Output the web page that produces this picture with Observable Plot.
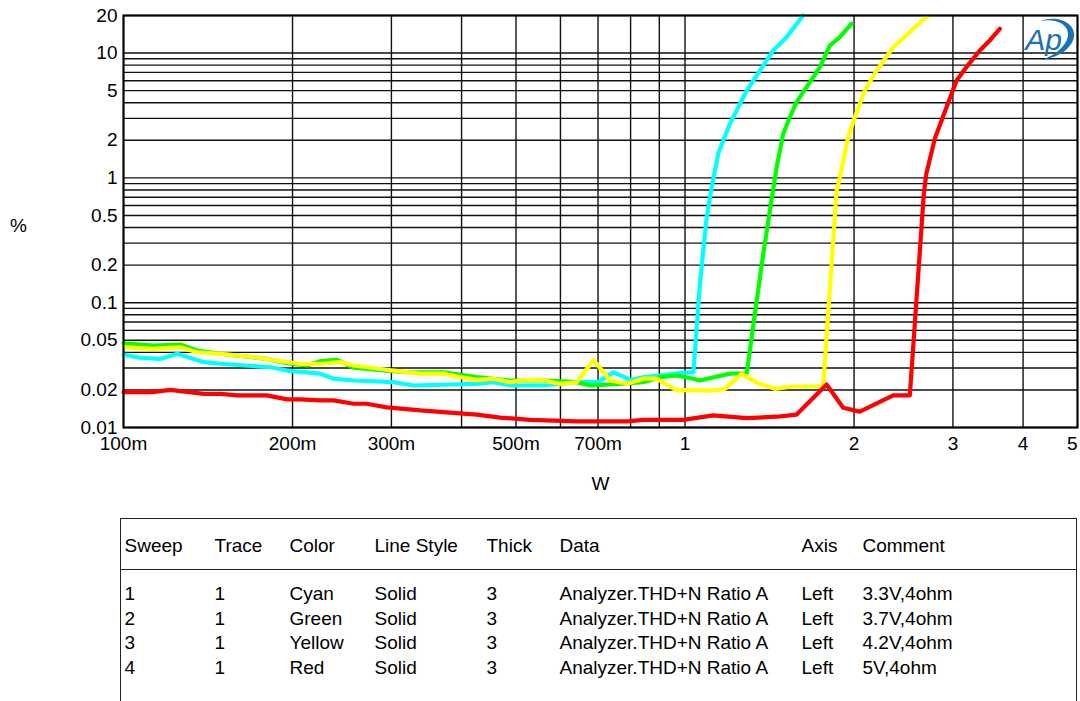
<!DOCTYPE html>
<html>
<head>
<meta charset="utf-8">
<script src="https://cdn.jsdelivr.net/npm/d3@7"></script>
<script src="https://cdn.jsdelivr.net/npm/@observablehq/plot@0.6"></script>
<style>
  html, body { margin: 0; padding: 0; background: #fff; }
  body { width: 1080px; height: 701px; overflow: hidden; font-family: "Liberation Sans", Arial, sans-serif; color: #000; }
  #chart svg { display: block; }
  #legend { position: relative; margin-left: 120px; margin-top: 13px; width: 957px; height: 200px;
            border: 1.5px solid #222; box-sizing: border-box; font-size: 19px; }
  #legend .sep { position: absolute; left: 0; right: 0; top: 50px; border-top: 1.5px solid #222; }
  #legend span { position: absolute; line-height: 22px; white-space: nowrap; }
</style>
</head>
<body>
<div id="chart"></div>
<div id="legend"><div class="sep"></div></div>
<script>
// ---- axis ticks ----
const xTickValues = [0.1, 0.2, 0.3, 0.5, 0.7, 1, 2, 3, 4, 5];
const xTickLabels = ["100m", "200m", "300m", "500m", "700m", "1", "2", "3", "4", "5"];
const yTickValues = [0.01, 0.02, 0.05, 0.1, 0.2, 0.5, 1, 2, 5, 10, 20];
const yTickLabels = ["0.01", "0.02", "0.05", "0.1", "0.2", "0.5", "1", "2", "5", "10", "20"];
const xGrid = [0.1, 0.2, 0.3, 0.4, 0.5, 0.6, 0.7, 0.8, 0.9, 1, 2, 3, 4, 5];
const yGrid = [0.01, 0.02, 0.03, 0.04, 0.05, 0.06, 0.07, 0.08, 0.09,
               0.1, 0.2, 0.3, 0.4, 0.5, 0.6, 0.7, 0.8, 0.9,
               1, 2, 3, 4, 5, 6, 7, 8, 9, 10, 20];

// ---- series (W, %) ----
const cyanX = [0.1, 0.1072, 0.1164, 0.1246, 0.139, 0.1488, 0.1827, 0.1956, 0.224, 0.2367, 0.257, 0.3027, 0.3284, 0.4258, 0.456, 0.488, 0.5597, 0.642, 0.70, 0.7455, 0.80, 0.843, 0.9026, 0.9665, 1.035, 1.063, 1.093, 1.116, 1.146, 1.17, 1.202, 1.236, 1.288, 1.36, 1.436, 1.516, 1.623];
const cyanY = [0.0384, 0.0362, 0.0355, 0.0389, 0.0334, 0.0324, 0.0304, 0.0286, 0.0270, 0.0246, 0.0238, 0.0231, 0.0217, 0.0224, 0.0231, 0.0217, 0.0217, 0.0231, 0.0231, 0.0277, 0.0241, 0.0253, 0.0261, 0.0272, 0.0277, 0.1417, 0.484, 0.842, 1.56, 1.99, 2.71, 3.47, 5.01, 7.25, 10.5, 13.4, 20];

const greenX = [0.1, 0.1132, 0.1263, 0.1352, 0.1488, 0.18, 0.1956, 0.2123, 0.224, 0.24, 0.257, 0.2945, 0.3197, 0.3715, 0.4258, 0.488, 0.5597, 0.642, 0.678, 0.7355, 0.843, 0.9026, 0.9665, 1.035, 1.063, 1.202, 1.288, 1.378, 1.456, 1.496, 1.537, 1.58, 1.646, 1.739, 1.811, 1.887, 1.98];
const greenY = [0.0473, 0.0454, 0.0462, 0.0414, 0.039, 0.0355, 0.0327, 0.0314, 0.034, 0.0348, 0.0301, 0.0286, 0.0277, 0.0277, 0.0253, 0.0238, 0.0238, 0.0231, 0.0217, 0.0221, 0.0231, 0.0253, 0.0261, 0.0246, 0.0238, 0.0270, 0.0272, 0.246, 1.218, 2.254, 3.06, 4.04, 5.33, 7.71, 11.5, 13.4, 17.2];

const yellowX = [0.1, 0.1132, 0.1263, 0.1352, 0.1488, 0.1706, 0.1956, 0.2065, 0.224, 0.2432, 0.257, 0.2945, 0.3197, 0.3377, 0.3715, 0.3978, 0.4258, 0.456, 0.488, 0.5227, 0.5597, 0.599, 0.642, 0.687, 0.7355, 0.788, 0.843, 0.890, 0.9665, 1.035, 1.108, 1.178, 1.262, 1.35, 1.446, 1.548, 1.762, 1.862, 1.882, 1.952, 2.006, 2.091, 2.194, 2.348, 2.549, 2.71];
const yellowY = [0.044, 0.0427, 0.044, 0.0401, 0.0389, 0.0366, 0.0334, 0.0324, 0.0324, 0.0334, 0.0314, 0.029, 0.0278, 0.027, 0.027, 0.0253, 0.0241, 0.0246, 0.0231, 0.0241, 0.0238, 0.0224, 0.0231, 0.0348, 0.0238, 0.0224, 0.0246, 0.0246, 0.0198, 0.0200, 0.0197, 0.0204, 0.0269, 0.0226, 0.0204, 0.0213, 0.0213, 0.792, 0.953, 2.118, 3.06, 5.01, 7.25, 11.14, 15.64, 20];

const redX = [0.1, 0.1125, 0.1212, 0.139, 0.1488, 0.1594, 0.18, 0.1956, 0.2065, 0.224, 0.2367, 0.257, 0.271, 0.2945, 0.3377, 0.3715, 0.4258, 0.4687, 0.53, 0.642, 0.788, 0.843, 0.993, 1.123, 1.288, 1.456, 1.58, 1.787, 1.913, 2.048, 2.348, 2.514, 2.663, 2.69, 2.785, 2.922, 3.045, 3.17, 3.35, 3.488, 3.636];
const redY = [0.0192, 0.0192, 0.020, 0.0186, 0.0186, 0.0181, 0.0181, 0.0168, 0.0168, 0.0165, 0.0165, 0.0155, 0.0155, 0.0145, 0.0137, 0.0133, 0.0127, 0.012, 0.0115, 0.0112, 0.0112, 0.0115, 0.0115, 0.0125, 0.0119, 0.0122, 0.0127, 0.0221, 0.0144, 0.0134, 0.0181, 0.0181, 0.75, 1.077, 2.055, 3.684, 6.03, 7.71, 10.49, 12.61, 15.64];

const seriesColors = ["#00ffff", "#00ff00", "#ffff00", "#ff0000"];

// ---- legend table ----
const legendHeaders = ["Sweep", "Trace", "Color", "Line Style", "Thick", "Data", "Axis", "Comment"];
const sweeps = ["1", "2", "3", "4"];
const traces = ["1", "1", "1", "1"];
const colorNames = ["Cyan", "Green", "Yellow", "Red"];
const lineStyles = ["Solid", "Solid", "Solid", "Solid"];
const thicks = ["3", "3", "3", "3"];
const dataNames = ["Analyzer.THD+N Ratio A", "Analyzer.THD+N Ratio A", "Analyzer.THD+N Ratio A", "Analyzer.THD+N Ratio A"];
const axes = ["Left", "Left", "Left", "Left"];
const comments = ["3.3V,4ohm", "3.7V,4ohm", "4.2V,4ohm", "5V,4ohm"];

const zip = (xs, ys) => xs.map((x, i) => ({x, y: ys[i]}));
const series = [zip(cyanX, cyanY), zip(greenX, greenY), zip(yellowX, yellowY), zip(redX, redY)];
const xTicks = xTickValues.map((v, i) => ({v, label: xTickLabels[i], last: i === xTickValues.length - 1}));
const yTicks = yTickValues.map((v, i) => ({v, label: yTickLabels[i]}));

const chart = Plot.plot({
  width: 1080,
  height: 505,
  marginLeft: 123,
  marginRight: 3,
  marginTop: 15,
  marginBottom: 78,
  style: {fontFamily: "'Liberation Sans', Arial, sans-serif", fontSize: "19px", color: "#000", background: "#fff"},
  x: {type: "log", domain: [0.1, 5], axis: null},
  y: {type: "log", domain: [0.01, 20], axis: null},
  marks: [
    Plot.ruleX(xGrid, {stroke: "#111", strokeWidth: 1.4}),
    Plot.ruleY(yGrid, {stroke: "#111", strokeWidth: 1.4}),
    ...series.map((s, i) => Plot.line(s, {x: "x", y: "y", stroke: seriesColors[i], strokeWidth: 4.2, strokeLinejoin: "round"})),
    Plot.frame({stroke: "#000", strokeWidth: 2}),
    // x tick labels
    Plot.text(xTicks.filter(d => !d.last), {x: "v", text: "label", frameAnchor: "bottom", lineAnchor: "middle", dy: 16, fontSize: 19, textAnchor: "middle", fill: "#000"}),
    Plot.text(xTicks.filter(d => d.last), {x: "v", text: "label", frameAnchor: "bottom", lineAnchor: "middle", dy: 16, fontSize: 19, textAnchor: "end", fill: "#000"}),
    // y tick labels
    Plot.text(yTicks, {y: "v", text: "label", frameAnchor: "left", dx: -6, dy: 0, fontSize: 19, textAnchor: "end", fill: "#000"}),
    Plot.text(["%"], {frameAnchor: "left", dx: -105, dy: 4, fontSize: 19, textAnchor: "middle"}),
    Plot.text(["W"], {frameAnchor: "bottom", lineAnchor: "middle", dy: 56, fontSize: 19, textAnchor: "middle"}),
    Plot.text(["Ap"], {frameAnchor: "top-right", lineAnchor: "middle", dx: -34, dy: 25, fontSize: 30, fontStyle: "italic", fill: "#1b72b5", textAnchor: "middle"})
  ]
});
document.getElementById("chart").appendChild(chart);

// decorative swoosh of the Ap logo
d3.select(chart).append("path")
  .attr("d", "M1040,21 C1066,12 1086,32 1066,50 C1060,55 1052,58 1042,60 C1052,56 1059,51 1063,46 C1076,30 1062,17 1040,21 Z")
  .attr("fill", "#1b72b5");

// legend table
const legend = document.getElementById("legend");
const colLeft = [3.5, 93.5, 168.5, 253.5, 365.5, 438.5, 680.5, 741.5];
const rowTop = [64, 88.5, 113, 137.5];
const columns = [sweeps, traces, colorNames, lineStyles, thicks, dataNames, axes, comments];
function addCell(text, left, top) {
  const s = document.createElement("span");
  s.textContent = text;
  s.style.left = left + "px";
  s.style.top = top + "px";
  legend.appendChild(s);
}
legendHeaders.forEach((h, j) => addCell(h, colLeft[j], 16));
columns.forEach((col, j) => col.forEach((v, i) => addCell(v, colLeft[j], rowTop[i])));
</script>
</body>
</html>
